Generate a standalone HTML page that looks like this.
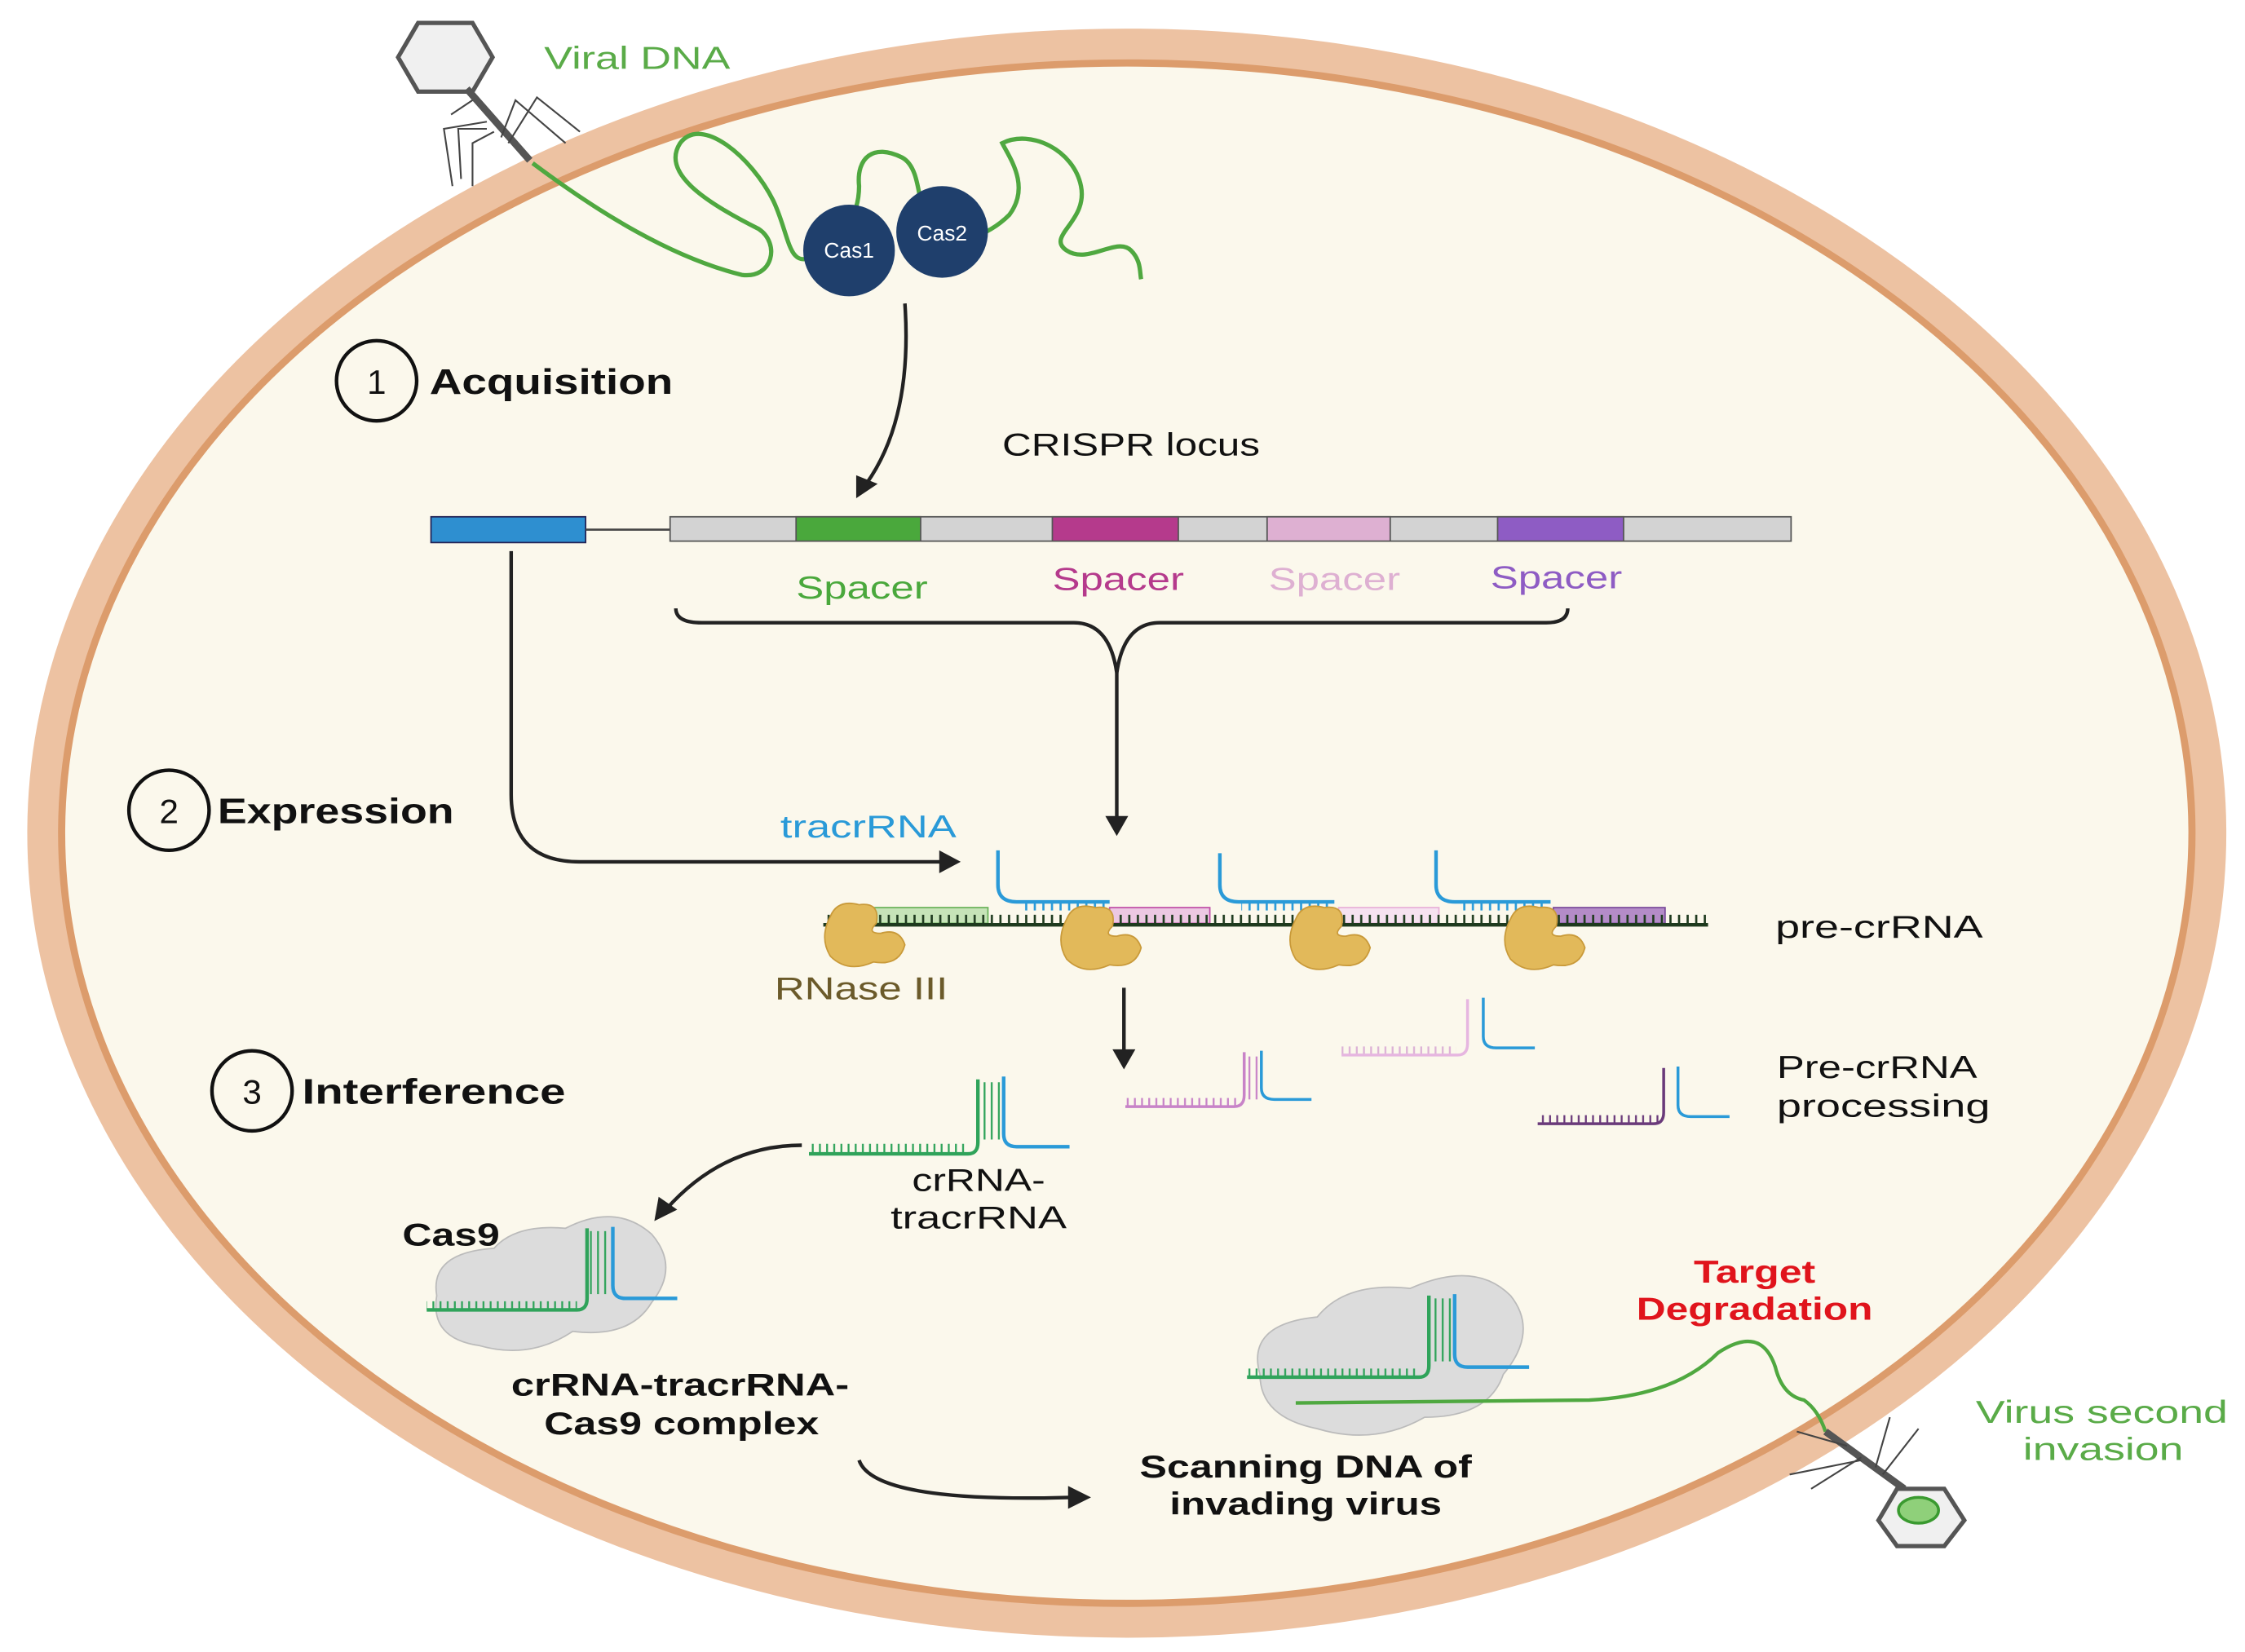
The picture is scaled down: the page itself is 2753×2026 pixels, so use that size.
<!DOCTYPE html>
<html><head><meta charset="utf-8"><style>
html,body{margin:0;padding:0;background:#fff;}
svg{display:block;}
text{font-family:"Liberation Sans",sans-serif;}
</style></head><body>
<svg width="2753" height="2026" viewBox="0 0 1568 1154" xmlns="http://www.w3.org/2000/svg">
<defs>
<pattern id="tk" width="6" height="8" patternUnits="userSpaceOnUse"><rect x="2" y="0" width="1.5" height="8" fill="#1e3a1e"/></pattern>
<pattern id="tkb" width="6" height="8" patternUnits="userSpaceOnUse"><rect x="2" y="0" width="1.5" height="8" fill="#2a9ad8"/></pattern>
<pattern id="tkg" width="5" height="8" patternUnits="userSpaceOnUse"><rect x="2" y="0" width="1.3" height="8" fill="#2fa35a"/></pattern>
<pattern id="tkp" width="5" height="8" patternUnits="userSpaceOnUse"><rect x="2" y="0" width="1.3" height="8" fill="#c883c8"/></pattern>
<pattern id="tkpu" width="5" height="8" patternUnits="userSpaceOnUse"><rect x="2" y="0" width="1.3" height="8" fill="#6a3a7a"/></pattern>
</defs>
<rect width="1568" height="1154" fill="#fff"/>
<ellipse cx="787" cy="582" rx="757" ry="551" fill="#fbf8ec" stroke="#edc2a2" stroke-width="22"/>
<ellipse cx="787" cy="582" rx="744" ry="538" fill="none" stroke="#dc9c6c" stroke-width="5"/>
<polygon points="292,16 330,16 344,40 330,64 292,64 278,40" fill="#f0f0f0" stroke="#555" stroke-width="3"/>
<line x1="326" y1="62" x2="370" y2="112" stroke="#555" stroke-width="5"/>
<g stroke="#444" stroke-width="1.2" fill="none">
<path d="M330,70 L315,80 M340,90 L320,90 L322,125 M345,92 L330,100 L330,130 M350,96 L360,70 L395,100 M355,100 L375,68 L405,92 M340,85 L310,90 L316,130"/>
</g>
<text x="380" y="48" font-size="22" fill="#5aab48" textLength="130" lengthAdjust="spacingAndGlyphs">Viral DNA</text>
<path d="M372,114 C420,150 470,180 518,192 C540,195 545,170 530,160 C490,140 462,120 475,100 C490,80 525,110 540,140 C552,165 550,190 570,178 C590,165 600,150 600,130 C598,110 610,100 630,110 C645,118 640,150 650,160 C665,175 690,165 705,150 C720,130 705,110 700,100 C720,90 750,105 755,130 C760,155 730,165 745,175 C760,185 780,165 790,175 C797,182 796,190 797,195" fill="none" stroke="#4fa840" stroke-width="3"/>
<circle cx="593" cy="175" r="32" fill="#1f3f6c"/>
<circle cx="658" cy="162" r="32" fill="#1f3f6c"/>
<text x="593" y="180" font-size="15" fill="#fff" text-anchor="middle">Cas1</text>
<text x="658" y="168" font-size="15" fill="#fff" text-anchor="middle">Cas2</text>
<path d="M632,212 C636,270 625,310 605,338" fill="none" stroke="#222" stroke-width="2.5"/>
<polygon points="598,348 598,332 613,338" fill="#222"/>
<circle cx="263" cy="266" r="28" fill="none" stroke="#111" stroke-width="2.5"/>
<text x="263" y="275" font-size="24" text-anchor="middle" fill="#111">1</text>
<text x="300" y="275" font-size="25" font-weight="bold" fill="#111" textLength="170" lengthAdjust="spacingAndGlyphs">Acquisition</text>
<text x="700" y="318" font-size="22" fill="#111" textLength="180" lengthAdjust="spacingAndGlyphs">CRISPR locus</text>
<rect x="301" y="361" width="108" height="18" fill="#2e8fd0" stroke="#225" stroke-width="1"/>
<line x1="409" y1="370" x2="468" y2="370" stroke="#444" stroke-width="1.5"/>
<rect x="468" y="361" width="783" height="17" fill="#d3d3d3" stroke="#555" stroke-width="1"/>
<rect x="556" y="361" width="87" height="17" fill="#4aa83c" stroke="#555"/>
<rect x="735" y="361" width="88" height="17" fill="#b53a8c" stroke="#555"/>
<rect x="885" y="361" width="86" height="17" fill="#deb0d2" stroke="#555"/>
<rect x="1046" y="361" width="88" height="17" fill="#8e5cc4" stroke="#555"/>
<text x="556" y="418" font-size="22" fill="#4aa83c" textLength="92" lengthAdjust="spacingAndGlyphs">Spacer</text>
<text x="735" y="412" font-size="22" fill="#b53a8c" textLength="92" lengthAdjust="spacingAndGlyphs">Spacer</text>
<text x="886" y="412" font-size="22" fill="#deb0d2" textLength="92" lengthAdjust="spacingAndGlyphs">Spacer</text>
<text x="1041" y="411" font-size="22" fill="#8e5cc4" textLength="92" lengthAdjust="spacingAndGlyphs">Spacer</text>
<path d="M472,425 Q472,435 490,435 L750,435 Q775,435 780,470 Q785,435 810,435 L1080,435 Q1095,435 1095,425" fill="none" stroke="#222" stroke-width="2.5"/>
<line x1="780" y1="470" x2="780" y2="572" stroke="#222" stroke-width="2.5"/>
<polygon points="772,570 788,570 780,584" fill="#222"/>
<circle cx="118" cy="566" r="28" fill="none" stroke="#111" stroke-width="2.5"/>
<text x="118" y="575" font-size="24" text-anchor="middle" fill="#111">2</text>
<text x="152" y="575" font-size="25" font-weight="bold" fill="#111" textLength="165" lengthAdjust="spacingAndGlyphs">Expression</text>
<path d="M357,385 L357,555 Q357,602 405,602 L658,602" fill="none" stroke="#222" stroke-width="2.5"/>
<polygon points="656,594 656,610 671,602" fill="#222"/>
<text x="545" y="585" font-size="22" fill="#2a9ad8" textLength="123" lengthAdjust="spacingAndGlyphs">tracrRNA</text>
<rect x="610" y="634" width="80" height="11" fill="#c6e3b8" stroke="#6ab35a"/>
<rect x="775" y="634" width="70" height="11" fill="#ecc8e2" stroke="#c050a8"/>
<rect x="935" y="634" width="70" height="11" fill="#f6e2f0" stroke="#e8b0d8"/>
<rect x="1085" y="634" width="78" height="11" fill="#b48cc8" stroke="#7a4a9a"/>
<rect x="575" y="639" width="618" height="7" fill="url(#tk)"/>
<line x1="575" y1="646" x2="1193" y2="646" stroke="#1e3a1e" stroke-width="2.5"/>
<g fill="none" stroke="#2a9ad8" stroke-width="2.5">
<path d="M697,594 L697,618 Q697,630 710,630 L775,630"/>
<path d="M852,596 L852,618 Q852,630 865,630 L932,630"/>
<path d="M1003,594 L1003,618 Q1003,630 1016,630 L1083,630"/>
</g>
<rect x="712" y="630" width="62" height="6" fill="url(#tkb)"/>
<rect x="867" y="630" width="62" height="6" fill="url(#tkb)"/>
<rect x="1018" y="630" width="62" height="6" fill="url(#tkb)"/>
<g fill="#e2b95a" stroke="#c99a3a" stroke-width="1">
<path d="M580,640 Q585,628 600,632 Q615,630 612,645 Q605,652 615,652 Q628,648 632,660 Q628,675 610,672 Q592,680 580,668 Q572,655 580,640Z"/>
<path d="M745,642 Q750,630 765,634 Q780,632 777,647 Q770,654 780,654 Q793,650 797,662 Q793,677 775,674 Q757,682 745,670 Q737,657 745,642Z"/>
<path d="M905,642 Q910,630 925,634 Q940,632 937,647 Q930,654 940,654 Q953,650 957,662 Q953,677 935,674 Q917,682 905,670 Q897,657 905,642Z"/>
<path d="M1055,642 Q1060,630 1075,634 Q1090,632 1087,647 Q1080,654 1090,654 Q1103,650 1107,662 Q1103,677 1085,674 Q1067,682 1055,670 Q1047,657 1055,642Z"/>
</g>
<text x="1240" y="655" font-size="22" fill="#111" textLength="145" lengthAdjust="spacingAndGlyphs">pre-crRNA</text>
<text x="541" y="698" font-size="22" fill="#6b5a2a" textLength="121" lengthAdjust="spacingAndGlyphs">RNase III</text>
<line x1="785" y1="690" x2="785" y2="735" stroke="#222" stroke-width="2.5"/>
<polygon points="777,733 793,733 785,747" fill="#222"/>
<circle cx="176" cy="762" r="28" fill="none" stroke="#111" stroke-width="2.5"/>
<text x="176" y="771" font-size="24" text-anchor="middle" fill="#111">3</text>
<text x="211" y="771" font-size="25" font-weight="bold" fill="#111" textLength="184" lengthAdjust="spacingAndGlyphs">Interference</text>
<rect x="786" y="767" width="80" height="6" fill="url(#tkp)"/>
<path d="M786,773 L862,773 Q869,773 869,765 L869,735" fill="none" stroke="#c883c8" stroke-width="2"/>
<rect x="871" y="738" width="9" height="30" fill="url(#tkp)"/>
<path d="M881,734 L881,760 Q881,768 890,768 L916,768" fill="none" stroke="#2a9ad8" stroke-width="2"/>
<rect x="937" y="731" width="80" height="6" fill="url(#tkp)" opacity="0.6"/>
<path d="M937,737 L1018,737 Q1025,737 1025,729 L1025,698" fill="none" stroke="#e6b6e0" stroke-width="2"/>
<path d="M1036,697 L1036,724 Q1036,732 1045,732 L1072,732" fill="none" stroke="#2a9ad8" stroke-width="2"/>
<rect x="1074" y="779" width="85" height="6" fill="url(#tkpu)"/>
<path d="M1074,785 L1155,785 Q1162,785 1162,777 L1162,746" fill="none" stroke="#6a3a7a" stroke-width="2"/>
<path d="M1172,745 L1172,772 Q1172,780 1181,780 L1208,780" fill="none" stroke="#2a9ad8" stroke-width="2"/>
<text x="1241" y="753" font-size="22" fill="#111" textLength="140" lengthAdjust="spacingAndGlyphs">Pre-crRNA</text>
<text x="1241" y="780" font-size="22" fill="#111" textLength="149" lengthAdjust="spacingAndGlyphs">processing</text>
<rect x="565" y="799" width="110" height="6" fill="url(#tkg)"/>
<path d="M565,806 L676,806 Q683,806 683,798 L683,754" fill="none" stroke="#2fa35a" stroke-width="2.5"/>
<rect x="685" y="756" width="14" height="40" fill="url(#tkg)"/>
<path d="M701,752 L701,792 Q701,801 710,801 L747,801" fill="none" stroke="#2a9ad8" stroke-width="2.5"/>
<text x="637" y="832" font-size="22" fill="#111" textLength="93" lengthAdjust="spacingAndGlyphs">crRNA-</text>
<text x="622" y="858" font-size="22" fill="#111" textLength="123" lengthAdjust="spacingAndGlyphs">tracrRNA</text>
<path d="M560,800 Q505,800 465,845" fill="none" stroke="#222" stroke-width="2.5"/>
<polygon points="457,853 460,836 473,845" fill="#222"/>
<path d="M305,905 Q300,875 345,872 Q360,855 395,858 Q430,840 455,862 Q475,885 455,910 Q440,935 400,930 Q370,950 335,940 Q300,935 305,905Z" fill="#dcdcdc" stroke="#bbb"/>
<text x="281" y="870" font-size="22" font-weight="bold" fill="#111" textLength="68" lengthAdjust="spacingAndGlyphs">Cas9</text>
<rect x="298" y="909" width="105" height="6" fill="url(#tkg)"/>
<path d="M298,915 L403,915 Q410,915 410,907 L410,858" fill="none" stroke="#2fa35a" stroke-width="2.5"/>
<rect x="412" y="860" width="14" height="44" fill="url(#tkg)"/>
<path d="M428,857 L428,898 Q428,907 437,907 L473,907" fill="none" stroke="#2a9ad8" stroke-width="2.5"/>
<text x="357" y="975" font-size="22" font-weight="bold" fill="#111" textLength="236" lengthAdjust="spacingAndGlyphs">crRNA-tracrRNA-</text>
<text x="380" y="1002" font-size="22" font-weight="bold" fill="#111" textLength="192" lengthAdjust="spacingAndGlyphs">Cas9 complex</text>
<path d="M600,1020 Q610,1050 748,1046" fill="none" stroke="#222" stroke-width="2.5"/>
<polygon points="746,1038 746,1054 762,1046" fill="#222"/>
<path d="M880,960 Q870,925 920,920 Q940,895 985,900 Q1030,880 1055,905 Q1075,930 1050,960 Q1040,990 995,990 Q960,1010 920,998 Q880,990 880,960Z" fill="#dcdcdc" stroke="#bbb"/>
<rect x="871" y="956" width="120" height="6" fill="url(#tkg)"/>
<path d="M871,962 L991,962 Q998,962 998,954 L998,905" fill="none" stroke="#2fa35a" stroke-width="2.5"/>
<rect x="1000" y="907" width="14" height="44" fill="url(#tkg)"/>
<path d="M1016,904 L1016,946 Q1016,955 1025,955 L1068,955" fill="none" stroke="#2a9ad8" stroke-width="2.5"/>
<path d="M905,980 L1110,978 Q1170,975 1200,945 Q1230,925 1240,955 Q1245,975 1260,978 Q1270,985 1275,1000" fill="none" stroke="#4fa840" stroke-width="2.5"/>
<text x="796" y="1032" font-size="22" font-weight="bold" fill="#111" textLength="232" lengthAdjust="spacingAndGlyphs">Scanning DNA of</text>
<text x="817" y="1058" font-size="22" font-weight="bold" fill="#111" textLength="190" lengthAdjust="spacingAndGlyphs">invading virus</text>
<text x="1183" y="896" font-size="22" font-weight="bold" fill="#e0141c" textLength="85" lengthAdjust="spacingAndGlyphs">Target</text>
<text x="1143" y="922" font-size="22" font-weight="bold" fill="#e0141c" textLength="165" lengthAdjust="spacingAndGlyphs">Degradation</text>
<text x="1380" y="994" font-size="22" fill="#5aab48" textLength="176" lengthAdjust="spacingAndGlyphs">Virus second</text>
<text x="1413" y="1020" font-size="22" fill="#5aab48" textLength="112" lengthAdjust="spacingAndGlyphs">invasion</text>
<line x1="1275" y1="1000" x2="1330" y2="1040" stroke="#555" stroke-width="5"/>
<g stroke="#444" stroke-width="1.2" fill="none">
<path d="M1290,1010 L1255,1000 M1300,1018 L1265,1040 M1310,1025 L1320,990 M1315,1030 L1340,998 M1300,1020 L1250,1030"/>
</g>
<polygon points="1325,1040 1358,1040 1372,1062 1358,1080 1325,1080 1312,1062" fill="#f0f0f0" stroke="#555" stroke-width="3"/>
<ellipse cx="1340" cy="1055" rx="14" ry="9" fill="#8fd07a" stroke="#3a9a30" stroke-width="2"/>
</svg>
</body></html>
